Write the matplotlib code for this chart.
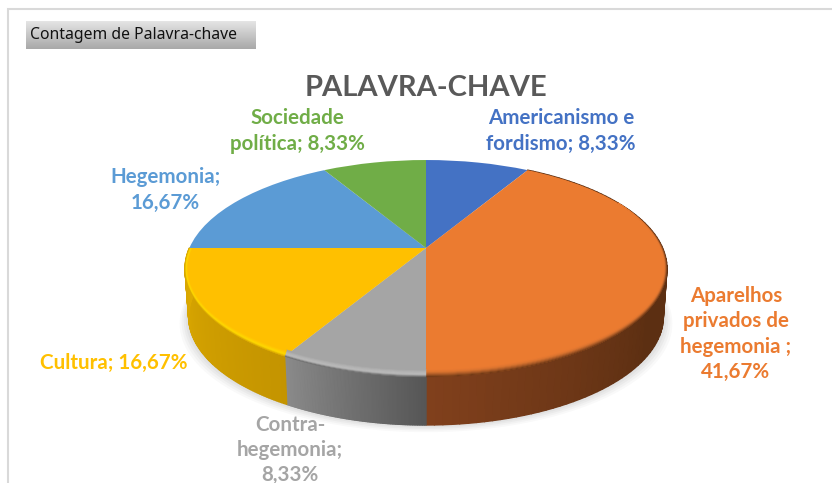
import numpy as np
import matplotlib

matplotlib.use("Agg")
import matplotlib.pyplot as plt
from matplotlib.collections import PolyCollection
from matplotlib.colors import LinearSegmentedColormap, to_rgb
from matplotlib.transforms import Transform

categories = [
    "Americanismo e\nfordismo; 8,33%",
    "Aparelhos\nprivados de\nhegemonia ;\n41,67%",
    "Contra-\nhegemonia;\n8,33%",
    "Cultura; 16,67%",
    "Hegemonia;\n16,67%",
    "Sociedade\npolítica; 8,33%",
]
values = [8.33, 41.67, 8.33, 16.67, 16.67, 8.33]
colors = ["#4472C4", "#EB7B30", "#A5A5A5", "#FFC000", "#5B9BD5", "#70AD47"]
label_pos = [(561, 131), (736, 334), (290, 450), (114, 363), (165, 190), (297, 131)]

APEX_X, APEX_Y = 426, 248
SCALE_X, SCALE_Y, PERSP = 236.6, 104.6, 0.189
DEPTH = 48
RIM_CX, RIM_CY, RIM_RX, RIM_RY = 426, 268, 241, 108


class PieProjection(Transform):
    # tilts the unit circle of ax.pie into the perspective ellipse, in pixels
    input_dims = 2
    output_dims = 2

    def transform_non_affine(self, xy):
        xy = np.asarray(xy, dtype=float)
        w = 1 + PERSP * xy[:, 1]
        return np.column_stack([APEX_X + SCALE_X * xy[:, 0] / w, APEX_Y - SCALE_Y * xy[:, 1] / w])


proj = PieProjection()


def ring_point(theta):
    # theta in degrees clockwise from the top
    t = np.radians(theta)
    return proj.transform_non_affine(np.column_stack([np.sin(t), np.cos(t)]))


def inset(pts, amount):
    # moves rim points inward by a few pixels, more in y than in x
    nx = (pts[:, 0] - RIM_CX) / RIM_RX
    ny = (pts[:, 1] - RIM_CY) / RIM_RY
    return np.column_stack([pts[:, 0] - nx * 3.5 * amount, pts[:, 1] - ny * 8 * amount])


def mix(c1, c2, f):
    return tuple((1 - f) * a + f * b for a, b in zip(to_rgb(c1), to_rgb(c2)))


fig = plt.figure(figsize=(8.32, 4.83), dpi=100, facecolor="white")
ax = fig.add_axes([0, 0, 1, 1])

wedges, _ = ax.pie(values, colors=colors, startangle=90, counterclock=False)
for w in wedges:
    w.set_transform(proj + ax.transData)
    w.set_zorder(5)
    w.set_linewidth(0)

ax.set_aspect("auto")
ax.axis("off")

# soft shadow under the disc
sweep = np.linspace(0, 360, 240)
for grow, alpha in zip([9, 7, 5, 3, 1], [0.05, 0.06, 0.07, 0.08, 0.09]):
    pts = ring_point(sweep)
    pts[:, 0] = APEX_X + (pts[:, 0] - APEX_X) * (0.985 + grow / 240)
    pts[:, 1] = pts[:, 1] + DEPTH + grow * 0.8
    ax.fill(pts[:, 0], pts[:, 1], color="#8c8c8c", alpha=alpha, lw=0, zorder=1)

# side wall, colour runs along the rim
starts = np.cumsum([0] + values[:-1]) * 3.6
spans = np.array(values) * 3.6
side_stops = {1: ("#5C2F12", "#80401C"), 2: ("#8A8A8A", "#565656"), 3: ("#DDAA00", "#C49400")}
for idx, (c_a, c_b) in side_stops.items():
    th = np.linspace(starts[idx], starts[idx] + spans[idx], 90)
    top = ring_point(th)
    bottom = top.copy()
    bottom[:, 0] = APEX_X + (top[:, 0] - APEX_X) * 0.985
    bottom[:, 1] = top[:, 1] + DEPTH
    f = np.linspace(0, 1, len(th) - 1)
    if idx == 1:
        cols = [mix(c_a, c_b, x) for x in np.clip((f - 0.62) / 0.38, 0, 1)]
    else:
        cols = [mix(c_b, c_a, x) if idx == 3 else mix(c_a, c_b, 1 - x) for x in f]
    # flat base first so the strips leave no seams
    base = np.vstack([top, bottom[::-1]])
    ax.fill(base[:, 0], base[:, 1], color=cols[len(cols) // 2], lw=0, zorder=2.5)
    quads = [[top[i], top[i + 1], bottom[i + 1], bottom[i]] for i in range(len(th) - 1)]
    ax.add_collection(PolyCollection(quads, facecolors=cols, edgecolors=cols, linewidths=1.0, zorder=3))

# bevel on the front rim of the top face
bevels = [
    (62, 180, [colors[1], "#DB7430", "#A85A26", "#6E3816"]),
    (180, 210, [colors[2], "#B4B4B4", "#BEBEBE", "#6E6E6E"]),
    (210, 270, [colors[3], "#FFCC00", "#FFDC00", "#D9A800"]),
]
steps = 8
for th0, th1, ramp in bevels:
    th = np.linspace(th0, th1, 80)
    rim = ring_point(th)
    taper = np.clip((th - 62) / 40, 0, 1)[:, None] if th0 == 62 else 1.0
    for j in range(steps):
        pos = (steps - 1 - j) / (steps - 1) * (len(ramp) - 1)
        k = min(int(pos), len(ramp) - 2)
        col = mix(ramp[k], ramp[k + 1], pos - k)
        outer = rim + (inset(rim, j / steps) - rim) * taper
        inner = rim + (inset(rim, (j + 1) / steps) - rim) * taper
        poly = np.vstack([outer, inner[::-1]])
        ax.fill(poly[:, 0], poly[:, 1], color=col, lw=0.3, zorder=6)

# outer frame of the worksheet
ax.plot([8, 8, 832], [483, 9, 9], color="#D9D9D9", lw=1.5, zorder=0, solid_joinstyle="miter")

# filter button
grad = np.linspace(0, 1, 28).reshape(-1, 1)
ax.imshow(grad, extent=(26, 256, 49, 21), cmap=LinearSegmentedColormap.from_list("btn", ["#E4E4E4", "#A9A9A9"]),
          aspect="auto", zorder=2)
ax.set_xlim(0, 832)
ax.set_ylim(483, 0)
ax.text(30, 35, "Contagem de Palavra-chave", fontsize=11.3, family="Noto Sans", color="#111111", va="center", zorder=7)

ax.text(426, 88, "PALAVRA-CHAVE", fontsize=21, family="Lato", fontweight="bold", color="#595959", ha="center", va="center", zorder=7)

for name, col, (x, y) in zip(categories, colors, label_pos):
    ax.text(x, y, name, fontsize=14.8, family="Lato", fontweight="bold", color=col, ha="center", va="center",
            linespacing=1.33, zorder=7)

fig.savefig("out.png", dpi=100, facecolor="white")
plt.close(fig)
